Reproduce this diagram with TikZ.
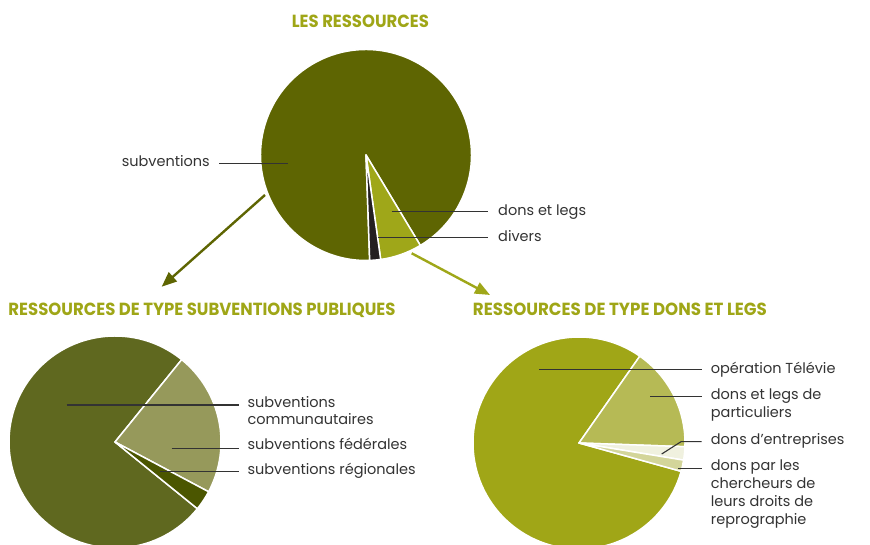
\documentclass[tikz,border=0pt]{standalone}
\usepackage{fontspec}
\setmainfont{Poppins}
\usepackage{graphicx}
\usetikzlibrary{arrows.meta}
\definecolor{ttl}{HTML}{9FA617}
\definecolor{olive}{HTML}{5E6502}
\definecolor{lime}{HTML}{9FA719}
\definecolor{blk}{HTML}{231F20}
\definecolor{lbig}{HTML}{5F681F}
\definecolor{lmid}{HTML}{96995B}
\definecolor{ldark}{HTML}{4B5600}
\definecolor{rbig}{HTML}{A0A617}
\definecolor{rmid}{HTML}{B6BA55}
\definecolor{rpale}{HTML}{F0F1DF}
\definecolor{rkhaki}{HTML}{D3D59A}
\definecolor{txt}{HTML}{333333}
\tikzset{
  slice/.style={draw=white, line width=1.5pt, line join=round},
  leader/.style={draw=txt, line width=1.1pt},
  lbl/.style={anchor=base west, inner sep=0pt, text=txt, font=\fontsize{14.5}{17.5}\selectfont, align=left},
  lblr/.style={lbl, font=\fontsize{14.5}{18.3}\selectfont},
  title/.style={anchor=base west, inner sep=0pt, text=ttl},
  bigarrow/.style={line width=2.4pt, -{Triangle[length=15pt,width=12pt]}}
}
\newcommand{\pieslice}[5]{% color, center, r, a1, a2
  \fill[#1, slice] #2 -- ++(#4:#3) arc[start angle=#4, end angle=#5, radius=#3] -- cycle;}
\begin{document}
\begin{tikzpicture}[x=1pt,y=1pt]
\useasboundingbox (0,0) rectangle (870,545);
% titles
\node[title] (t1) at (291.7,517.3) {\resizebox{137pt}{12.5pt}{\bfseries LES RESSOURCES}};
\node[title] (t2) at (8.3,229.5) {\resizebox{387pt}{12.5pt}{\bfseries RESSOURCES DE TYPE SUBVENTIONS PUBLIQUES}};
\node[title] (t3) at (472.7,229.5) {\resizebox{294pt}{12.5pt}{\bfseries RESSOURCES DE TYPE DONS ET LEGS}};
% top pie
\coordinate (c1) at (366,390);
\pieslice{olive}{(c1)}{105.5}{-59}{272}
\pieslice{lime}{(c1)}{105.5}{-82}{-59}
\pieslice{blk}{(c1)}{105.5}{-88}{-82}
% left pie
\coordinate (c2) at (115,103);
\pieslice{lbig}{(c2)}{106}{51}{321}
\pieslice{lmid}{(c2)}{106}{-28}{51}
\pieslice{ldark}{(c2)}{106}{-39}{-28}
% right pie
\coordinate (c3) at (579,102);
\pieslice{rbig}{(c3)}{106}{55}{344.5}
\pieslice{rmid}{(c3)}{106}{-2}{55}
\pieslice{rpale}{(c3)}{106}{-9.3}{-2}
\pieslice{rkhaki}{(c3)}{106}{-15.5}{-9.3}
% arrows
\coordinate (a1s) at (265,350);
\coordinate (a1e) at (161.7,258.3);
\coordinate (a2s) at (411.7,291.7);
\coordinate (a2e) at (490,250);
\draw[bigarrow, olive] (a1s) -- (a1e);
\draw[bigarrow, lime] (a2s) -- (a2e);
% top labels
\node[lbl, anchor=base east] (lsub) at (210,378) {subventions};
\node[lbl] (ldons) at (498,329) {dons et legs};
\node[lbl] (ldiv) at (498,303.3) {divers};
\coordinate (psub) at (288,381.7);
\coordinate (qsub) at (219,381.7);
\coordinate (pdons) at (391.7,333.3);
\coordinate (qdons) at (488.3,333.3);
\coordinate (pdiv) at (378.3,307.3);
\coordinate (qdiv) at (488.3,307.3);
\draw[leader] (qsub) -- (psub);
\draw[leader] (pdons) -- (qdons);
\draw[leader] (pdiv) -- (qdiv);
% left labels
\node[lbl] (lcom) at (247.3,120) {subventions\\communautaires};
\node[lbl] (lfed) at (247.3,95) {subventions fédérales};
\node[lbl] (lreg) at (247.3,70) {subventions régionales};
\coordinate (pcom) at (66.7,140);
\coordinate (qcom) at (239.3,140);
\coordinate (pfed) at (171.7,96.7);
\coordinate (qfed) at (239.3,96.7);
\coordinate (preg) at (160,73.3);
\coordinate (qreg) at (239.3,73.3);
\draw[leader] (pcom) -- (qcom);
\draw[leader] (pfed) -- (qfed);
\draw[leader] (preg) -- (qreg);
% right labels
\node[lblr] (ltel) at (710.7,171.7) {opération Télévie};
\node[lblr] (lpar) at (710.7,127.3) {dons et legs de\\particuliers};
\node[lblr] (lent) at (710.7,100.7) {dons d’entreprises};
\node[lblr] (lche) at (710.7,20) {dons par les\\chercheurs de\\leurs droits de\\reprographie};
\coordinate (ptel) at (539.3,175.7);
\coordinate (qtel) at (701.7,175.7);
\coordinate (ppar) at (650,148.3);
\coordinate (qpar) at (701.7,148.3);
\coordinate (pent) at (661.7,91);
\coordinate (kent) at (681,103.3);
\coordinate (qent) at (701.7,103.3);
\coordinate (pche) at (678.3,76.7);
\coordinate (qche) at (701.7,76.7);
\draw[leader] (ptel) -- (qtel);
\draw[leader] (ppar) -- (qpar);
\draw[leader] (pent) -- (kent) -- (qent);
\draw[leader] (pche) -- (qche);
\end{tikzpicture}
\end{document}
